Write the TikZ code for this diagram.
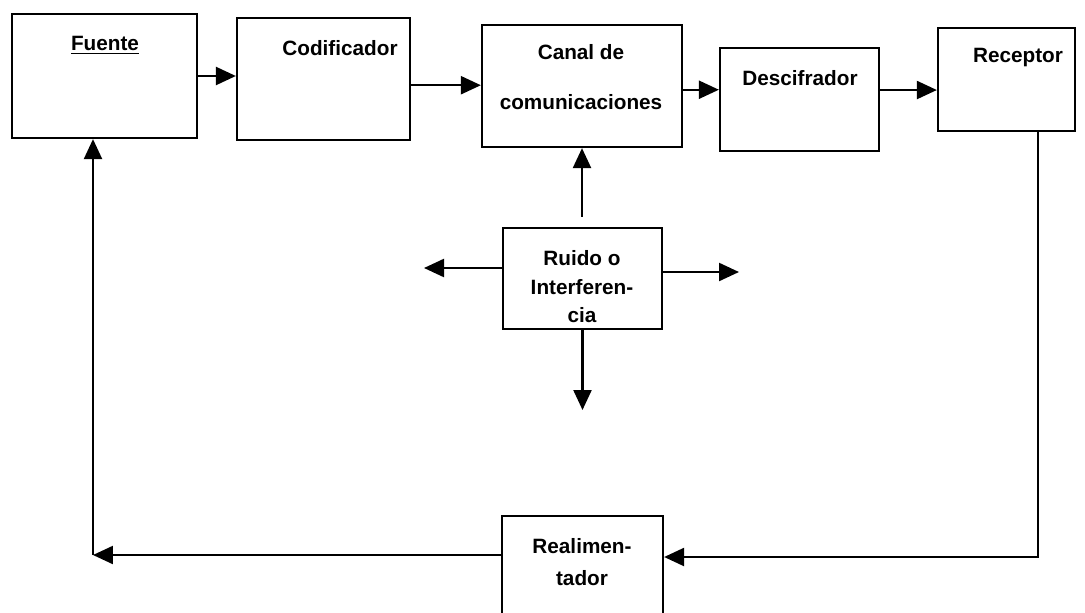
\documentclass[tikz,border=0pt]{standalone}
\usepackage{fontspec}
\setmainfont{Liberation Sans}
\usetikzlibrary{arrows.meta, calc}
\tikzset{
  blk/.style={draw, rectangle, inner sep=0pt},
  lbl/.style={font=\bfseries\fontsize{11.8}{16}\selectfont, align=center, inner sep=0pt},
  arr/.style={-{Triangle[length=0.4cm, width=0.36cm]}},
}

\begin{document}
\begin{tikzpicture}[x=0.02cm, y=-0.02cm, line width=1.3pt]

  \useasboundingbox (0, 0) rectangle (1085, 612);

  % boxes
  \node[blk, minimum width=3.7cm, minimum height=2.48cm] (fuente) at (104.5, 76) {};
  \node[blk, minimum width=3.46cm, minimum height=2.44cm] (codif) at (323.5, 79) {};
  \node[blk, minimum width=4cm, minimum height=2.44cm] (canal) at (582, 86) {};
  \node[blk, minimum width=3.18cm, minimum height=2.06cm] (descif) at (799.5, 99.5) {};
  \node[blk, minimum width=2.74cm, minimum height=2.06cm] (receptor) at (1006.5, 79.5) {};
  \node[blk, minimum width=3.18cm, minimum height=2.02cm] (ruido) at (582.5, 278.5) {};
  \node[blk, minimum width=3.22cm, minimum height=2.28cm] (realim) at (582.5, 573) {};

  % texts
  \node[lbl] (fuentelbl) at (105, 45) {\underline{Fuente}};
  \node[lbl] (codiflbl) at (340, 48) {Codificador};
  \node[lbl] (canallbl) at (581, 77) {Canal de\\[12pt]comunicaciones};
  \node[lbl] (descilbl) at (800, 78) {Descifrador};
  \node[lbl] (receplbl) at (1018, 58) {Receptor};
  \node[lbl, font=\bfseries\fontsize{11.8}{16.2}\selectfont] (ruidolbl) at (582, 287) {Ruido o\\Interferen-\\cia};
  \node[lbl, font=\bfseries\fontsize{11.8}{18}\selectfont] (realilbl) at (582, 562) {Realimen-\\tador};

  % free ends
  \coordinate (noisel) at (424, 268);
  \coordinate (noiser) at (739, 272);
  \coordinate (noised) at (582, 410);
  \coordinate (rcorner) at (1038, 557);
  \coordinate (lcorner) at (93, 555);

  % main chain
  \draw[arr] (fuente.east) -- (codif.west |- fuente.east);
  \draw[arr] ($(codif.north east)!0.55!(codif.south east)$) coordinate (c1) -- (c1 -| canal.west);
  \draw[arr] ($(canal.north east)!0.53!(canal.south east)$) coordinate (c2) -- (c2 -| descif.west);
  \draw[arr] ($(descif.north east)!0.41!(descif.south east)$) coordinate (c3) -- (c3 -| receptor.west);

  % noise
  \draw[arr, shorten <=0.2cm] (canal.south |- ruido.north) -- (canal.south);
  \draw[arr] (ruido.west |- noisel) -- (noisel);
  \draw[arr] (ruido.east |- noiser) -- (noiser);
  \draw[arr] (ruido.south) -- (ruido.south |- noised);

  % feedback
  \draw[arr] (receptor.south -| rcorner) -- (rcorner) -- (realim.east |- rcorner);
  \draw[arr] (realim.west |- lcorner) -- (lcorner);
  \draw[arr] (lcorner) -- (fuente.south -| lcorner);

\end{tikzpicture}
\end{document}
